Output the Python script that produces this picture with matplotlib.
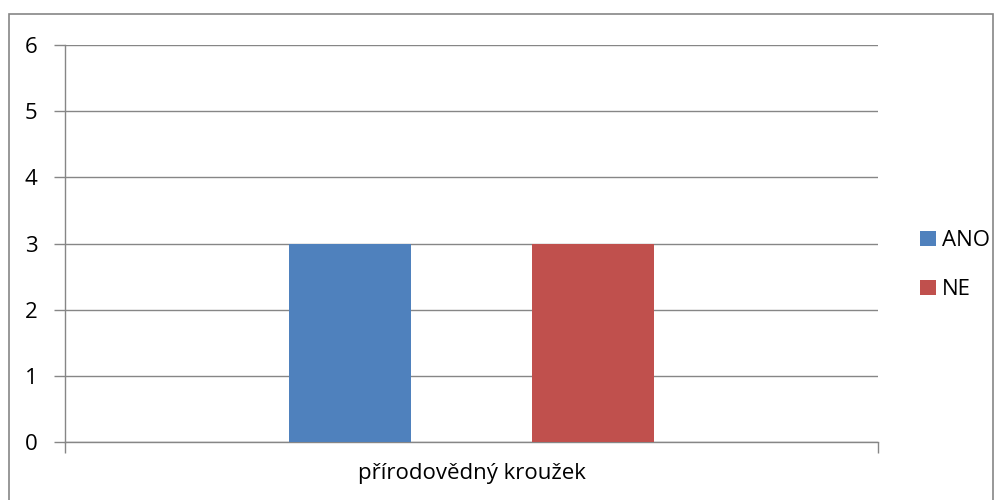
import matplotlib.pyplot as plt
from matplotlib.patches import Rectangle

categories = ['přírodovědný kroužek']
series = ['ANO', 'NE']
values = [[3], [3]]
colors = ['#4F81BD', '#C0504D']

plt.rcParams['font.family'] = ['Open Sans', 'DejaVu Sans']

fig = plt.figure(figsize=(10.03, 5), dpi=100)
ax = fig.add_axes([65 / 1003, 58 / 500, 813 / 1003, 397 / 500])

width = 0.15
offsets = [-0.15, 0.15]
for name, vals, col, off in zip(series, values, colors, offsets):
    ax.bar([i + off for i in range(len(categories))], vals, width=width,
           color=col, label=name, zorder=3)

ax.set_xlim(-0.5, 0.5)
ax.set_ylim(0, 6)
ax.set_yticks(range(0, 7))
ax.set_xticks([-0.5, 0.5])
ax.set_xticklabels(['', ''])
ax.set_xticks([0], minor=True)
ax.set_xticklabels(categories, minor=True)
ax.tick_params(axis='x', which='minor', length=0, labelsize=16, pad=15)
ax.tick_params(axis='x', which='major', length=8, color='#868686', width=1)
ax.tick_params(axis='y', length=8, color='#868686', width=1, labelsize=16, pad=12)

ax.grid(axis='y', color='#868686', linewidth=1, zorder=0)
for s in ['top', 'right']:
    ax.spines[s].set_visible(False)
for s in ['left', 'bottom']:
    ax.spines[s].set_color('#868686')
    ax.spines[s].set_linewidth(1)

ax.legend(loc='center left', bbox_to_anchor=(855 / 813, 0.445), frameon=False,
          fontsize=16, handlelength=0.7, handleheight=0.7, handletextpad=0.3,
          labelspacing=1.25, borderaxespad=0, borderpad=0)

fig.patches.append(Rectangle((9 / 1003, -0.05), 984 / 1003, (486 / 500) + 0.05,
                             transform=fig.transFigure, fill=False,
                             edgecolor='#868686', linewidth=1.2))

fig.savefig('out.png', dpi=100)
